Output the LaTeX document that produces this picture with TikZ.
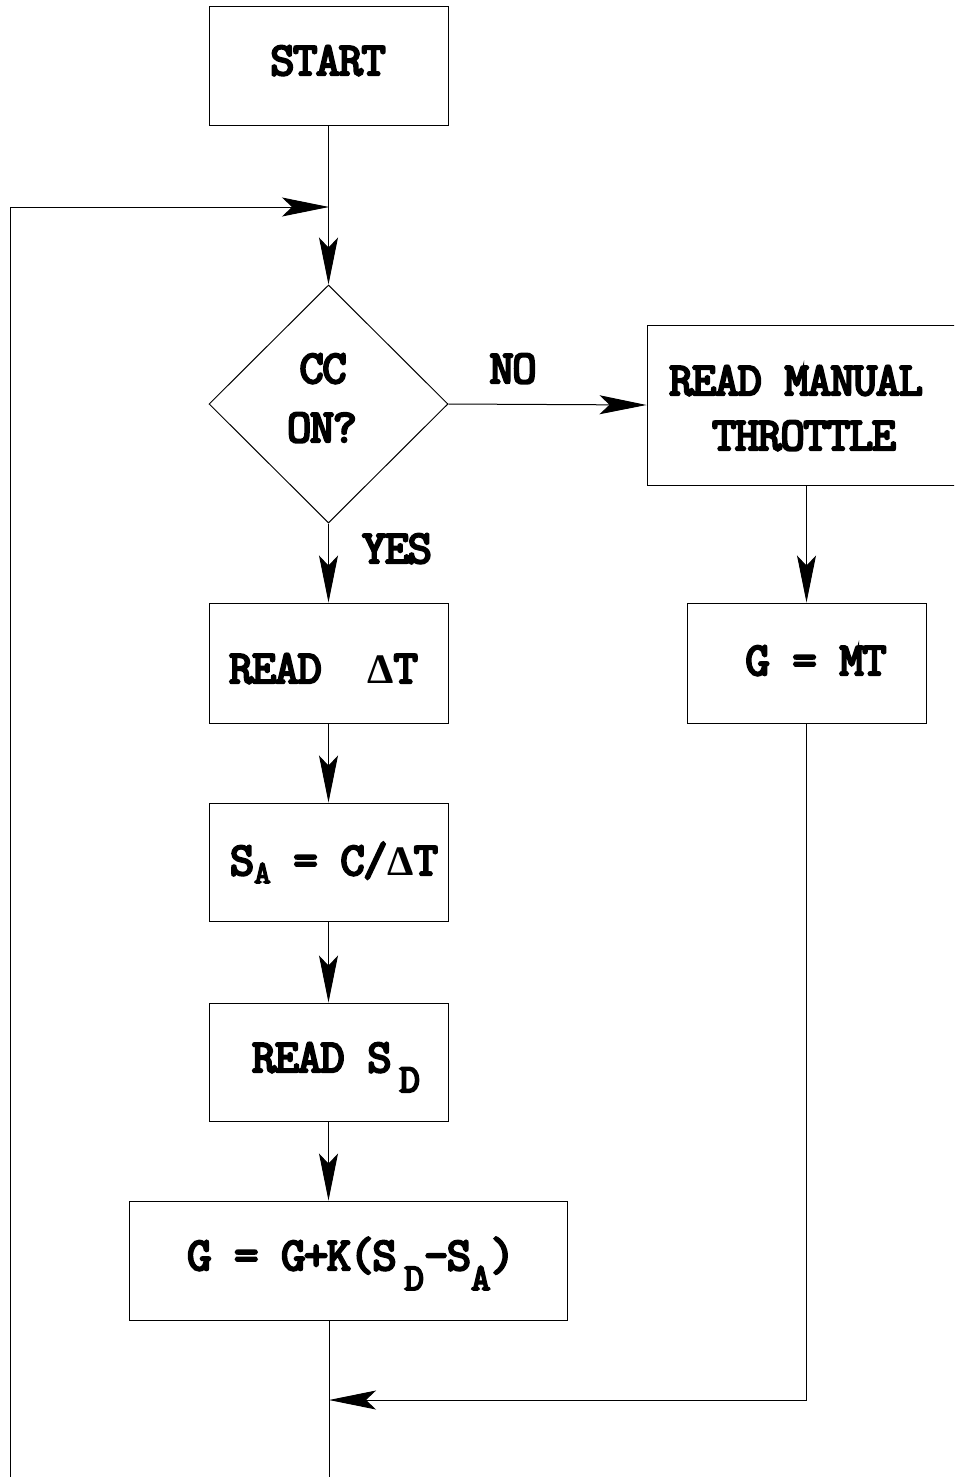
\documentclass[tikz,border=0pt]{standalone}
\usepackage{fontspec}
\newfontfamily\cour{Latin Modern Mono}[FakeBold=5,LetterSpace=-3]
\newfontfamily\grk{Liberation Serif}
\usetikzlibrary{arrows.meta,shapes.geometric}
\newcommand\lowsub[3]{\raisebox{-#1}{\fontsize{#2}{#2}\selectfont #3}}
\newcommand\Dl{{\grk\bfseries\fontsize{42}{42}\selectfont Δ}}
\begin{document}
\begin{tikzpicture}[x=1pt,y=-1pt,
  box/.style={draw,line width=1pt,inner sep=0pt,rectangle},
  lbl/.style={anchor=base,inner sep=0pt,font=\cour\fontsize{47}{47}\selectfont},
  arr/.style={-{Stealth[length=47pt,width=19pt,inset=10pt]},line width=1pt},
  ln/.style={line width=1pt}]
\useasboundingbox (0,0) rectangle (954,1477);
\clip (0,0) rectangle (954,1477);
% boxes
\node[box,minimum width=239pt,minimum height=119pt] (start) at (328.5,66.5) {};
\node[draw,diamond,line width=1pt,inner sep=0pt,minimum width=239pt,minimum height=238pt] (cc) at (328.5,404) {};
\node[box,minimum width=318pt,minimum height=160pt] (rmt) at (806,405) {};
\node[box,minimum width=239pt,minimum height=120pt] (gmt) at (806.5,663) {};
\node[box,minimum width=239pt,minimum height=120pt] (rdt) at (328.5,663) {};
\node[box,minimum width=239pt,minimum height=118pt] (sa) at (328.5,862) {};
\node[box,minimum width=239pt,minimum height=118pt] (rsd) at (328.5,1062) {};
\node[box,minimum width=438pt,minimum height=119pt] (gk) at (348,1260.5) {};
% texts
\node[lbl] (tstart) at (328,75) {START};
\node[lbl] (tcc) at (323,383) {CC};
\node[lbl] (ton) at (322,442) {ON?};
\node[lbl] (tno) at (513,383) {NO};
\node[lbl] (tyes) at (397,563) {YES};
\node[lbl] (trm) at (796,395) {READ MANUAL};
\node[lbl] (tthr) at (804,450) {THROTTLE};
\node[lbl] (tgmt) at (816,675) {G = MT};
\node[lbl] (trdt) at (323.5,683) {READ~~\Dl T};
\node[lbl] (tsa) at (334,875) {S\lowsub{8pt}{32}{A} = C/\Dl T};
\node[lbl] (trsd) at (336,1072) {READ S\,\lowsub{20pt}{40}{D}};
\node[lbl] (tgk) at (351,1270) {G = G+K(S\,\lowsub{20pt}{38}{D}\textendash S\lowsub{20pt}{38}{A})};
% connectors
\coordinate (j1) at (329,207);
\coordinate (lb) at (10,1477);
\coordinate (mb) at (329,1477);
\coordinate (mj) at (329,1400);
\draw[arr] (start.south) -- (cc.north);
\draw[arr] (lb) |- (j1);
\draw[arr] (cc.east) -- (rmt.west);
\draw[arr] (cc.south) -- (rdt.north);
\draw[arr] (rdt.south) -- (sa.north);
\draw[arr] (sa.south) -- (rsd.north);
\draw[arr] (rsd.south) -- (rsd.south |- gk.north);
\draw[arr] (gmt.north |- rmt.south) -- (gmt.north);
\draw[ln] (gk.south -| mb) -- (mb);
\draw[arr] (gmt.south) |- (mj);
\end{tikzpicture}
\end{document}
